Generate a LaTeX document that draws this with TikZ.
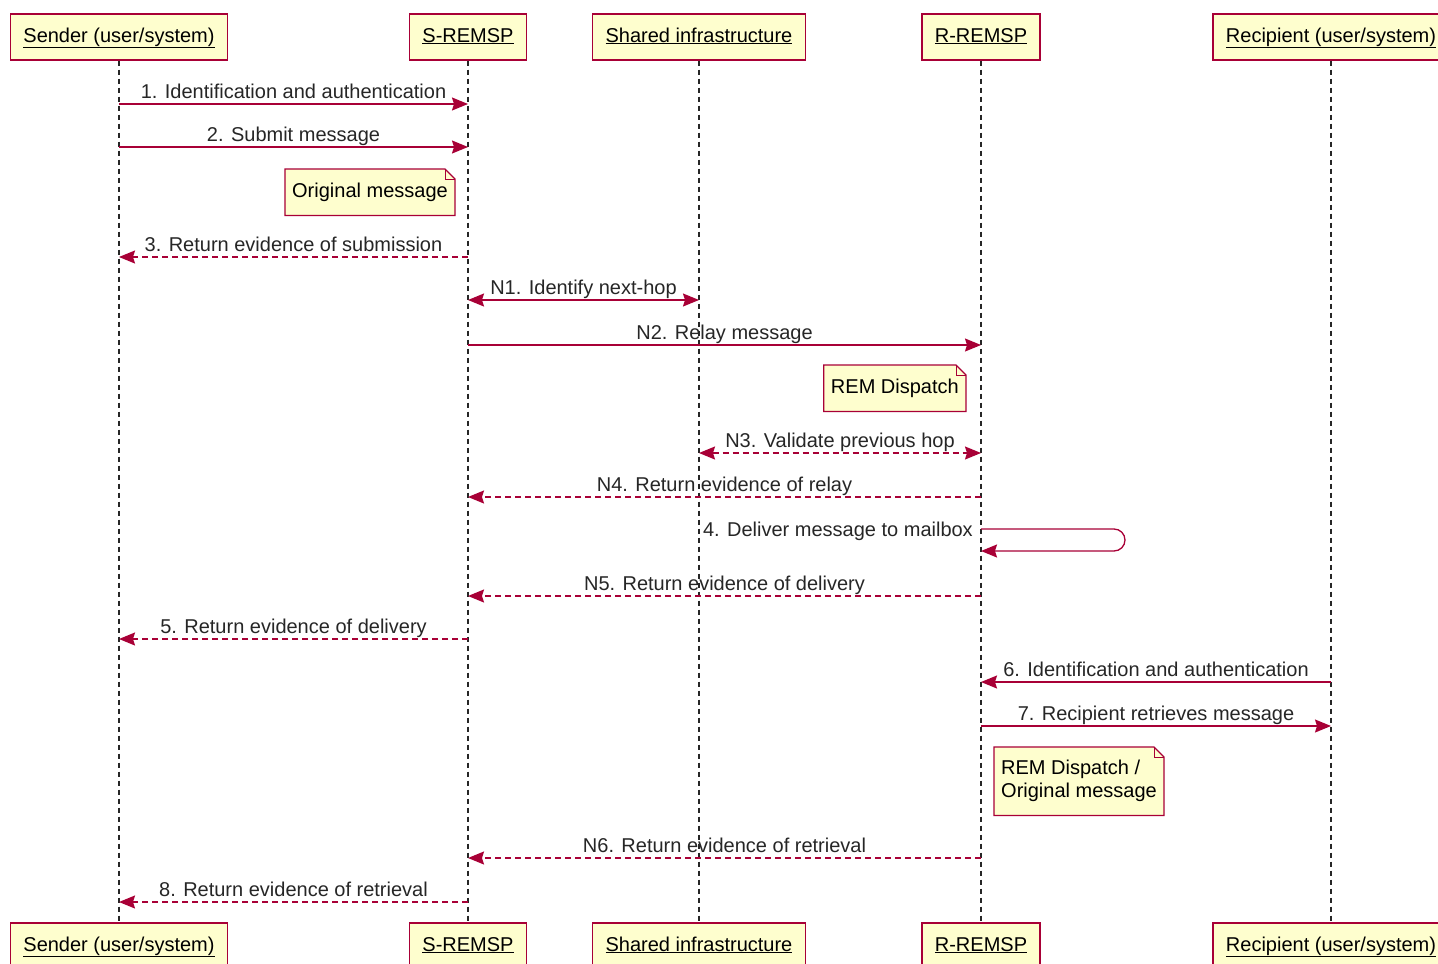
\documentclass[tikz,border=0pt]{standalone}
\usepackage{fontspec}
\setmainfont{Liberation Sans}
\usetikzlibrary{arrows.meta,backgrounds}
\definecolor{umlred}{HTML}{A80036}
\definecolor{umlfill}{HTML}{FEFECE}
\tikzstyle{actor}=[rectangle,draw=umlred,fill=umlfill,line width=1.3pt,minimum height=46pt,inner xsep=13pt,text height=15pt,text depth=5pt,font=\fontsize{20}{24}\selectfont]
\tikzstyle{note}=[rectangle,inner xsep=7pt,inner ysep=4pt,minimum height=46pt,align=left,font=\fontsize{20}{23}\selectfont]
\tikzstyle{notebox}=[draw=umlred,fill=umlfill,line width=1.3pt,line join=miter]
\tikzstyle{life}=[black!85,line width=1.1pt,dash pattern=on 5pt off 4pt]
\tikzstyle{sync}=[umlred,line width=1.3pt,->]
\tikzstyle{ret}=[sync,dash pattern=on 6pt off 4pt]
\tikzstyle{lbl}=[midway,anchor=base,yshift=6pt,inner sep=0pt,text=black!85,font=\fontsize{20}{24}\selectfont]

\begin{document}
\begin{tikzpicture}[x=1pt,y=-1pt,>={Stealth[length=16pt,width=13pt,inset=2pt]}]
            \useasboundingbox (0,0) rectangle (1438,964);

            % participants, top and bottom
            \node[actor] (sndT)  at (119,37)  {\underline{Sender (user/system)}};
            \node[actor] (sremT) at (468,37)  {\underline{S-REMSP}};
            \node[actor] (shT)   at (699,37)  {\underline{Shared infrastructure}};
            \node[actor] (rremT) at (981,37)  {\underline{R-REMSP}};
            \node[actor] (rcpT)  at (1331,37) {\underline{Recipient (user/system)}};

            \node[actor] (sndB)  at (119,946)  {\underline{Sender (user/system)}};
            \node[actor] (sremB) at (468,946)  {\underline{S-REMSP}};
            \node[actor] (shB)   at (699,946)  {\underline{Shared infrastructure}};
            \node[actor] (rremB) at (981,946)  {\underline{R-REMSP}};
            \node[actor] (rcpB)  at (1331,946) {\underline{Recipient (user/system)}};

            \foreach \p in {snd,srem,sh,rrem,rcp}
                \draw[life] (\p T.south) -- (\p B.north);

            % message rows
            \foreach \r/\y in {1/104,2/147,3/257,N1/300,N2/345,N3/453,N4/497,4/529,4b/551,N5/596,5/639,6/682,7/726,N6/858,8/902}
                \coordinate (r\r) at (0,\y);
            \coordinate (loopx) at (1125,0);

            \draw[sync] (sndT |- r1) -- (sremT |- r1) node[lbl] {1. Identification and authentication};
            \draw[sync] (sndT |- r2) -- (sremT |- r2) node[lbl] {2. Submit message};
            \node[note,anchor=north east] (orig) at (455,169) {Original message};
            \draw[ret] (sremT |- r3) -- (sndT |- r3) node[lbl] {3. Return evidence of submission};

            \draw[sync,<->] (sremT |- rN1) -- (shT |- rN1) node[lbl] {N1. Identify next-hop};
            \draw[sync] (sremT |- rN2) -- (rremT |- rN2) node[lbl] {N2. Relay message};
            \node[note,anchor=north east] (disp) at (966,365) {REM Dispatch};
            \draw[ret,<->] (shT |- rN3) -- (rremT |- rN3) node[lbl] {N3. Validate previous hop};
            \draw[ret] (rremT |- rN4) -- (sremT |- rN4) node[lbl] {N4. Return evidence of relay};

            \draw[sync,rounded corners=11pt] (rremT |- r4) -- (loopx |- r4) -- (loopx |- r4b) -- (rremT |- r4b);
            \node[anchor=base east,inner sep=0pt,text=black!85,font=\fontsize{20}{24}\selectfont]
                (dlv) at ([xshift=-8pt,yshift=-7pt]rremT |- r4) {4. Deliver message to mailbox};

            \draw[ret] (rremT |- rN5) -- (sremT |- rN5) node[lbl] {N5. Return evidence of delivery};
            \draw[ret] (sremT |- r5) -- (sndT |- r5) node[lbl] {5. Return evidence of delivery};

            \draw[sync] (rcpT |- r6) -- (rremT |- r6) node[lbl] {6. Identification and authentication};
            \draw[sync] (rremT |- r7) -- (rcpT |- r7) node[lbl] {7. Recipient retrieves message};
            \node[note,anchor=north west,minimum height=68pt] (disporig) at (994,747) {REM Dispatch /\\Original message};

            \draw[ret] (rremT |- rN6) -- (sremT |- rN6) node[lbl] {N6. Return evidence of retrieval};
            \draw[ret] (sremT |- r8) -- (sndT |- r8) node[lbl] {8. Return evidence of retrieval};

            % dog-eared note frames
            \begin{pgfonlayer}{background}
            \foreach \n in {orig,disp,disporig} {
                \draw[notebox] (\n.south west) -- (\n.north west) -- ([xshift=-10pt]\n.north east)
                    -- ([yshift=-10pt]\n.north east) -- (\n.south east) -- cycle;
                \draw[umlred,line width=1pt] ([xshift=-10pt]\n.north east) -- ([xshift=-10pt,yshift=-10pt]\n.north east)
                    -- ([yshift=-10pt]\n.north east);
            }
            \end{pgfonlayer}
        \end{tikzpicture}
\end{document}
